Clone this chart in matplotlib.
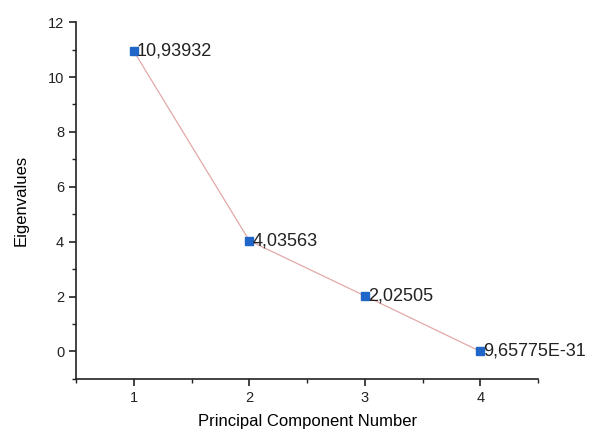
import numpy as np
import matplotlib.pyplot as plt
from matplotlib.ticker import MultipleLocator

plt.rcParams['font.family'] = ['Liberation Sans', 'DejaVu Sans']

pc = np.array([1, 2, 3, 4])
eig = np.array([10.93932, 4.03563, 2.02505, 9.65775e-31])
labels = ["10,93932", "4,03563", "2,02505", "9,65775E-31"]

fig = plt.figure(figsize=(5.94, 4.34), dpi=100)
ax = fig.add_axes([0.128, 0.127, 0.778, 0.822])

ax.plot(pc, eig, color="#e3a8a8", lw=0.9, zorder=1)
ax.plot(pc, eig, ls="none", marker="s", ms=5.5, color="#2065c8", zorder=2)
for x, y, s in zip(pc, eig, labels):
    ax.text(x + 0.025, y, s, fontsize=13, va="center", ha="left", color="#222222")

ax.set_xlim(0.5, 4.5)
ax.set_ylim(-1, 12)
ax.xaxis.set_major_locator(MultipleLocator(1))
ax.xaxis.set_minor_locator(MultipleLocator(0.5))
ax.yaxis.set_major_locator(MultipleLocator(2))
ax.yaxis.set_minor_locator(MultipleLocator(1))
ax.spines['top'].set_visible(False)
ax.spines['right'].set_visible(False)
for sp in ['left', 'bottom']:
    ax.spines[sp].set_linewidth(1.2)
    ax.spines[sp].set_color("#222222")
ax.tick_params(which='major', direction='out', length=5, width=1.2, labelsize=10.5, colors="#222222")
ax.tick_params(which='minor', direction='out', length=3, width=1.0, colors="#222222")

ax.set_xlabel("Principal Component Number", fontsize=12, labelpad=7)
ax.set_ylabel("Eigenvalues", fontsize=12, labelpad=14)

fig.savefig("out.png", dpi=100)
